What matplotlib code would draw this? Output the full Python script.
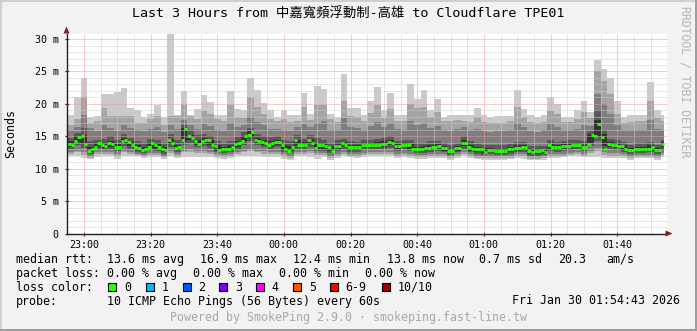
import numpy as np
import matplotlib
matplotlib.use("Agg")
import matplotlib.pyplot as plt
from matplotlib.patches import Rectangle, Polygon

W, H, DPI = 697, 331, 100

# ---------------- data ----------------
start_min = -5          # minutes relative to 23:00
data_end_min = 174

# median rtt (ms), one value per minute
median_rtt = [
    13.8, 13.7, 14.3, 14.9, 15.0, 13.8, 12.8, 13.0, 13.4, 13.9,
    13.7, 13.5, 13.9, 13.8, 13.4, 13.3, 14.2, 14.5, 14.1, 13.7,
    13.3, 13.2, 12.9, 13.1, 13.3, 14.0, 13.6, 13.4, 13.1, 12.9,
    14.5, 13.9, 13.2, 13.4, 14.5, 16.2, 15.1, 14.7, 14.3, 13.8,
    14.3, 14.4, 14.4, 13.7, 13.5, 12.9, 13.0, 13.0, 13.1, 13.3,
    13.8, 13.9, 14.2, 15.1, 15.2, 15.7, 14.5, 14.3, 14.1, 14.0,
    13.7, 13.9, 14.1, 14.1, 13.6, 13.0, 12.8, 13.4, 14.4, 13.6,
    13.7, 13.7, 14.5, 14.0, 13.2, 13.7, 13.6, 13.5, 13.3, 12.8,
    13.5, 13.5, 13.9, 13.6, 13.3, 13.3, 13.3, 13.3, 13.6, 13.6,
    13.6, 13.7, 13.7, 13.7, 13.8, 13.8, 14.1, 13.9, 13.5, 13.5,
    13.7, 13.7, 13.7, 13.1, 13.1, 13.0, 13.0, 13.2, 13.2, 13.4,
    13.4, 13.5, 13.2, 13.2, 12.7, 12.7, 13.2, 13.2, 14.0, 14.0,
    13.4, 13.0, 13.0, 13.0, 13.0, 12.6, 12.9, 12.9, 12.7, 12.8,
    12.8, 12.8, 13.0, 13.0, 13.2, 13.2, 13.3, 13.3, 12.8, 12.5,
    12.7, 12.7, 12.9, 12.6, 13.6, 13.3, 13.3, 13.3, 13.5, 13.5,
    13.5, 13.7, 13.7, 13.6, 13.4, 13.4, 13.8, 15.2, 15.1, 16.9,
    14.9, 13.0, 13.8, 13.7, 13.7, 13.5, 13.5, 13.1, 12.9, 12.9,
    13.1, 13.1, 13.1, 13.1, 13.1, 13.4, 12.9, 12.9, 13.8,
]

# smoke: sorted pings (ms), one value per 2 minutes
ping_1 = [
    11.9, 11.9, 11.7, 11.5, 11.8, 12.0, 12.0, 11.5, 11.9, 11.9,
    11.9, 11.7, 11.8, 11.8, 11.5, 11.9, 11.7, 11.8, 11.8, 11.8,
    11.8, 11.8, 11.6, 11.5, 11.6, 12.0, 12.0, 12.0, 12.0, 11.8,
    11.8, 11.8, 11.5, 11.4, 11.9, 11.9, 11.8, 11.5, 11.8, 11.4,
    11.7, 11.9, 11.8, 11.7, 11.8, 11.9, 11.9, 11.9, 11.9, 11.7,
    11.8, 11.7, 11.5, 11.5, 11.6, 11.7, 11.6, 11.4, 11.6, 11.9,
    11.6, 11.5, 11.4, 11.4, 11.4, 11.4, 11.5, 11.6, 11.5, 11.3,
    11.3, 11.4, 11.6, 11.7, 11.8, 11.9, 11.9, 11.8, 11.8, 11.8,
    11.6, 11.6, 11.6, 11.6, 11.4, 11.6, 11.6, 11.6, 11.4, 11.8,
]
ping_2 = [
    12.3, 12.5, 12.1, 11.7, 12.2, 12.3, 12.3, 11.9, 12.5, 12.3,
    12.1, 11.9, 12.1, 12.1, 11.8, 12.4, 12.0, 12.5, 12.6, 12.4,
    12.4, 12.3, 11.9, 11.8, 11.9, 12.3, 12.5, 12.7, 12.5, 12.3,
    12.2, 12.3, 11.9, 11.7, 12.2, 12.2, 12.4, 12.1, 12.1, 11.7,
    12.0, 12.2, 12.0, 12.0, 12.1, 12.2, 12.2, 12.2, 12.3, 12.0,
    12.1, 12.0, 11.8, 11.8, 11.9, 12.0, 11.9, 11.6, 11.9, 12.2,
    11.9, 11.7, 11.6, 11.6, 11.6, 11.6, 11.7, 11.9, 12.0, 11.5,
    11.5, 11.6, 12.0, 11.9, 12.0, 12.1, 12.2, 12.0, 12.4, 12.7,
    12.1, 12.0, 12.0, 11.9, 11.6, 11.8, 11.8, 11.8, 11.6, 12.1,
]
ping_3 = [
    12.6, 12.8, 12.5, 12.0, 12.5, 12.5, 12.6, 12.2, 12.8, 12.6,
    12.3, 12.1, 12.4, 12.4, 12.0, 12.7, 12.3, 12.8, 13.0, 12.7,
    12.8, 12.6, 12.2, 12.1, 12.2, 12.5, 12.8, 13.0, 12.8, 12.7,
    12.5, 12.6, 12.2, 12.0, 12.5, 12.5, 12.7, 12.4, 12.4, 12.0,
    12.3, 12.5, 12.3, 12.3, 12.4, 12.5, 12.5, 12.5, 12.6, 12.3,
    12.4, 12.3, 12.1, 12.1, 12.2, 12.3, 12.2, 11.9, 12.2, 12.5,
    12.2, 12.0, 11.9, 11.9, 11.9, 11.9, 12.0, 12.2, 12.3, 11.8,
    11.8, 11.9, 12.3, 12.2, 12.3, 12.4, 12.5, 12.3, 12.8, 13.2,
    12.5, 12.4, 12.4, 12.2, 11.9, 12.1, 12.1, 12.1, 11.9, 12.4,
]
ping_4 = [
    13.1, 13.6, 13.2, 12.3, 13.0, 12.9, 13.1, 12.7, 13.5, 13.1,
    12.6, 12.4, 12.9, 12.8, 12.3, 13.3, 12.6, 13.6, 13.9, 13.3,
    13.5, 13.2, 12.5, 12.4, 12.5, 13.0, 13.6, 14.2, 13.6, 13.3,
    13.1, 13.3, 12.6, 12.4, 13.1, 13.0, 13.4, 12.8, 12.8, 12.4,
    12.8, 13.0, 12.6, 12.6, 12.9, 13.0, 13.0, 13.1, 13.2, 12.8,
    13.0, 12.7, 12.4, 12.4, 12.6, 12.7, 12.5, 12.1, 12.5, 13.1,
    12.5, 12.3, 12.1, 12.2, 12.1, 12.1, 12.3, 12.5, 12.6, 12.0,
    12.0, 12.1, 12.8, 12.6, 12.8, 12.9, 13.0, 12.7, 13.5, 14.2,
    13.0, 13.0, 12.9, 12.6, 12.2, 12.4, 12.4, 12.5, 12.2, 12.9,
]
ping_5 = [
    13.4, 14.1, 13.8, 12.6, 13.3, 13.2, 13.4, 13.0, 13.9, 13.5,
    12.9, 12.7, 13.2, 13.1, 12.6, 13.8, 12.9, 14.2, 14.4, 13.7,
    13.9, 13.6, 12.8, 12.7, 12.8, 13.4, 14.2, 14.9, 14.0, 13.7,
    13.4, 13.7, 12.9, 12.7, 13.5, 13.3, 13.8, 13.1, 13.1, 12.7,
    13.1, 13.3, 12.9, 12.9, 13.2, 13.3, 13.3, 13.4, 13.6, 13.1,
    13.3, 13.0, 12.7, 12.7, 12.9, 13.0, 12.8, 12.4, 12.8, 13.5,
    12.8, 12.6, 12.4, 12.5, 12.4, 12.4, 12.6, 12.8, 12.9, 12.3,
    12.3, 12.4, 13.1, 12.9, 13.1, 13.2, 13.3, 13.0, 14.0, 15.0,
    13.5, 13.3, 13.2, 12.9, 12.5, 12.7, 12.7, 12.8, 12.5, 13.3,
]
ping_6 = [
    14.2, 15.0, 15.2, 13.3, 14.0, 14.0, 14.3, 13.8, 14.7, 14.3,
    13.6, 13.4, 14.0, 13.9, 13.3, 14.6, 13.7, 16.3, 15.2, 14.5,
    14.7, 14.4, 13.6, 13.4, 13.6, 14.2, 15.1, 15.8, 14.8, 14.4,
    14.2, 14.5, 13.7, 13.5, 14.4, 14.1, 14.6, 13.9, 13.9, 13.5,
    13.9, 14.1, 13.7, 13.6, 13.9, 14.0, 14.1, 14.2, 14.4, 13.8,
    14.0, 13.8, 13.4, 13.5, 13.6, 13.8, 13.5, 13.1, 13.5, 14.4,
    13.6, 13.3, 13.2, 13.2, 13.1, 13.1, 13.3, 13.6, 13.6, 13.0,
    13.0, 13.1, 13.8, 13.6, 13.8, 13.9, 14.0, 13.7, 15.3, 17.5,
    15.3, 14.1, 13.9, 13.6, 13.2, 13.4, 13.4, 13.6, 13.2, 14.1,
]
ping_7 = [
    14.8, 15.5, 16.3, 14.2, 14.5, 14.6, 15.0, 14.4, 15.3, 14.8,
    14.2, 13.9, 14.6, 14.5, 13.9, 15.3, 14.4, 16.8, 16.0, 15.2,
    15.3, 15.0, 14.3, 13.9, 14.2, 14.9, 15.6, 16.3, 15.4, 15.0,
    14.9, 15.0, 14.4, 14.2, 15.2, 14.6, 15.2, 14.7, 14.5, 14.0,
    14.4, 14.6, 14.2, 14.1, 14.4, 14.5, 14.6, 14.7, 15.0, 14.3,
    14.5, 14.5, 13.9, 14.0, 14.2, 14.3, 14.0, 13.6, 14.0, 15.0,
    14.2, 13.8, 13.7, 13.7, 13.6, 13.6, 13.8, 14.1, 14.1, 13.5,
    13.5, 13.5, 14.4, 14.1, 14.3, 14.4, 14.5, 14.2, 15.8, 19.0,
    16.0, 14.6, 14.4, 14.1, 13.7, 13.9, 13.9, 14.1, 13.7, 14.5,
]
ping_8 = [
    16.0, 16.5, 18.3, 16.3, 15.8, 16.8, 16.3, 15.8, 16.8, 16.3,
    15.9, 15.8, 16.1, 16.5, 15.6, 16.8, 16.2, 17.5, 16.8, 16.2,
    16.9, 16.6, 16.0, 15.8, 17.0, 16.5, 16.8, 18.0, 17.2, 16.7,
    16.2, 16.2, 16.0, 15.8, 16.5, 16.9, 16.4, 17.0, 17.3, 16.0,
    15.9, 17.8, 16.4, 16.3, 16.0, 16.6, 17.2, 16.4, 17.0, 16.1,
    16.0, 17.3, 16.8, 17.0, 16.3, 16.6, 16.0, 15.8, 16.2, 16.4,
    16.0, 16.2, 15.8, 15.7, 15.8, 15.8, 15.9, 17.0, 16.4, 15.8,
    15.7, 15.9, 16.9, 16.5, 16.0, 16.0, 16.2, 16.8, 16.6, 21.5,
    20.0, 18.5, 16.8, 16.0, 15.9, 16.0, 16.0, 17.5, 16.2, 16.0,
]
ping_9 = [
    16.8, 17.6, 21.0, 17.1, 17.3, 19.4, 18.2, 18.1, 18.2, 18.1,
    17.1, 17.1, 17.6, 18.1, 16.8, 18.1, 18.1, 19.9, 18.1, 17.6,
    18.9, 18.4, 17.6, 17.4, 19.9, 18.0, 17.8, 21.0, 19.5, 18.4,
    17.6, 17.3, 17.6, 17.2, 17.4, 19.5, 17.5, 19.9, 19.8, 17.6,
    17.2, 20.5, 18.2, 18.0, 17.3, 18.6, 19.8, 17.8, 19.2, 17.4,
    17.3, 20.0, 19.3, 19.5, 17.9, 18.7, 17.3, 17.3, 17.5, 17.4,
    17.2, 18.0, 17.2, 17.0, 17.1, 17.0, 17.3, 19.5, 18.0, 17.2,
    17.0, 17.2, 18.9, 18.5, 17.2, 17.2, 17.6, 18.8, 17.8, 25.0,
    23.5, 21.5, 18.5, 17.1, 17.2, 17.4, 17.3, 20.5, 17.8, 17.3,
]
ping_10 = [
    18.3, 21.0, 24.0, 18.0, 18.1, 21.5, 21.5, 21.8, 22.5, 19.4,
    19.1, 18.0, 18.5, 19.8, 18.0, 31.5, 18.3, 22.0, 18.3, 19.2,
    21.3, 20.3, 18.3, 18.3, 22.0, 19.2, 19.0, 24.0, 22.2, 20.2,
    19.0, 18.0, 19.0, 18.3, 18.3, 21.7, 18.5, 22.7, 22.3, 18.5,
    18.0, 24.6, 19.3, 19.3, 18.3, 20.5, 22.6, 19.0, 21.7, 18.3,
    18.3, 23.1, 20.8, 22.2, 19.0, 20.8, 18.0, 18.3, 18.3, 18.3,
    18.3, 19.4, 18.3, 18.0, 18.2, 18.2, 18.2, 22.1, 19.2, 18.3,
    18.0, 18.3, 21.0, 20.0, 18.0, 18.0, 19.0, 20.5, 18.8, 26.7,
    25.4, 24.0, 20.5, 18.0, 18.3, 18.3, 18.3, 23.4, 19.0, 18.3,
]

x_tick_minutes = [0, 20, 40, 60, 80, 100, 120, 140, 160]
x_tick_labels = ["23:00", "23:20", "23:40", "00:00", "00:20", "00:40",
                 "01:00", "01:20", "01:40"]
y_tick_values = [0, 5, 10, 15, 20, 25, 30]
y_tick_labels = ["0", "5 m", "10 m", "15 m", "20 m", "25 m", "30 m"]

loss_labels = ["0", "1", "2", "3", "4", "5", "6-9", "10/10"]
loss_colors = ["#26ff00", "#00b8ff", "#0059ff", "#7e00ff", "#ff00ff",
               "#ff5500", "#ff0000", "#a10000"]

title = "Last 3 Hours from 中嘉寬頻浮動制-高雄 to Cloudflare TPE01"
stats_rtt = ["median rtt:", "13.6 ms avg", "16.9 ms max", "12.4 ms min",
             "13.8 ms now", "0.7 ms sd", "20.3", "am/s"]
stats_loss = ["packet loss:", "0.00 % avg", "0.00 % max", "0.00 % min",
              "0.00 % now"]
probe_text = "10 ICMP Echo Pings (56 Bytes) every 60s"
date_text = "Fri Jan 30 01:54:43 2026"
footer = "Powered by SmokePing 2.9.0 · smokeping.fast-line.tw"

# ---------------- figure ----------------
MONO = "DejaVu Sans Mono"
plt.rcParams["font.family"] = [MONO, "Noto Sans CJK TC"]

BG = "#f2f2f2"
fig = plt.figure(figsize=(W / DPI, H / DPI), dpi=DPI, facecolor=BG)

def fx(px):
    return px / W

def fy(py):
    return 1 - py / H

# frame shading
fig.add_artist(Rectangle((0, 0), fx(2), 1, transform=fig.transFigure, color="#cfcfcf", lw=0))
fig.add_artist(Rectangle((0, fy(2)), 1, 2 / H, transform=fig.transFigure, color="#cfcfcf", lw=0))
fig.add_artist(Rectangle((fx(W - 2), 0), fx(2), 1, transform=fig.transFigure, color="#9e9e9e", lw=0))
fig.add_artist(Rectangle((0, 0), 1, 2 / H, transform=fig.transFigure, color="#9e9e9e", lw=0))

PL, PT, PW, PH = 66.5, 33.5, 600, 200
ax = fig.add_axes([fx(PL), 1 - (PT + PH) / H, PW / W, PH / H])
ax.set_facecolor("white")
ax.set_xlim(-5.2, 174.8)
ax.set_ylim(0, 30.86)

# smoke bands
n_bins = len(ping_1)
edges = start_min + 2 * np.arange(n_bins + 1, dtype=float)
edges[-1] = data_end_min
pairs = [(ping_1, ping_10, "#cacaca"), (ping_2, ping_9, "#a4a4a4"),
         (ping_3, ping_8, "#7e7e7e"), (ping_4, ping_7, "#585858"),
         (ping_5, ping_6, "#323232")]
for z, (lo, hi, col) in enumerate(pairs):
    lo_e = np.append(lo, lo[-1])
    hi_e = np.append(hi, hi[-1])
    ax.fill_between(edges, lo_e, hi_e, step="post", color=col, lw=0,
                    antialiased=False, zorder=2 + z * 0.1)

# median: one short segment per minute (no vertical connectors)
m0 = start_min + np.arange(len(median_rtt), dtype=float)
ax.hlines(median_rtt, m0, m0 + 1, colors=loss_colors[0], lw=2.1,
          capstyle="butt", zorder=4)

# grid
for m in np.arange(-5, 175, 5):
    if m % 20 == 0:
        continue
    ax.axvline(m, color="#cccccc", lw=0.72, ls=(0, (1, 1)), zorder=3)
for v in range(1, 31):
    if v % 5 == 0:
        continue
    ax.axhline(v, color="#cccccc", lw=0.72, ls=(0, (1, 1)), zorder=3)
for m in x_tick_minutes:
    ax.axvline(m, color="#ec9a9a", lw=0.72, ls=(0, (1, 1)), zorder=3.1)
for v in y_tick_values[1:]:
    ax.axhline(v, color="#ec9a9a", lw=0.72, ls=(0, (1, 1)), zorder=3.1)

for s in ["top", "right"]:
    ax.spines[s].set_visible(False)
for s in ["left", "bottom"]:
    ax.spines[s].set_color("#1f1f1f")
    ax.spines[s].set_linewidth(1.0)
    ax.spines[s].set_zorder(5)

ax.set_xticks(x_tick_minutes)
ax.set_xticklabels(x_tick_labels)
ax.set_yticks(y_tick_values)
ax.set_yticklabels(y_tick_labels)
ax.tick_params(axis="both", which="major", direction="inout", length=3,
               width=0.8, color="#1f1f1f", labelsize=7.2, labelcolor="black")
ax.tick_params(axis="x", pad=3.0)
ax.tick_params(axis="y", pad=4.0)
for lab in ax.get_xticklabels() + ax.get_yticklabels():
    lab.set_family(MONO)

# arrows
arrow_col = "#801f1f"
fig.add_artist(Polygon([[fx(PL - 3), fy(PT)], [fx(PL + 3), fy(PT)], [fx(PL), fy(PT - 7)]],
                       closed=True, transform=fig.transFigure, color=arrow_col, lw=0))
fig.add_artist(Polygon([[fx(PL + PW - 1), fy(PT + PH - 3)], [fx(PL + PW - 1), fy(PT + PH + 3)],
                        [fx(PL + PW + 6), fy(PT + PH)]],
                       closed=True, transform=fig.transFigure, color=arrow_col, lw=0))

# texts
fig.text(fx(348.5), fy(14.3), title, ha="center", va="center", fontsize=9.6,
         family=[MONO, "Noto Sans CJK TC"])
fig.text(fx(11), fy(133.5), "Seconds", rotation=90, ha="center", va="center",
         fontsize=8.4, family=MONO)
fig.text(fx(685.5), fy(81.5), "RRDTOOL / TOBI OETIKER", rotation=-90, ha="center",
         va="center", fontsize=8.3, family=MONO, color="#b4b4b4")

LFS = 8.4
row_y = [259.3, 273.3, 287.3, 301.0]
rtt_x = [16, 107.3, 200, 293.3, 386.7, 479.3, 558.3, 606.7]
for t, x in zip(stats_rtt, rtt_x):
    fig.text(fx(x), fy(row_y[0]), t, ha="left", va="center", fontsize=LFS, family=MONO)
loss_x = [16, 107.3, 193.3, 279.3, 365.3]
for t, x in zip(stats_loss, loss_x):
    fig.text(fx(x), fy(row_y[1]), t, ha="left", va="center", fontsize=LFS, family=MONO)
fig.text(fx(16), fy(row_y[2]), "loss color:", ha="left", va="center", fontsize=LFS, family=MONO)
box_x = [108.3, 145.7, 182.7, 219.3, 256.0, 293.3, 330.0, 381.7]
for bx, lab, col in zip(box_x, loss_labels, loss_colors):
    fig.add_artist(Rectangle((fx(bx), fy(row_y[2] + 4)), 8 / W, 8 / H,
                             transform=fig.transFigure, facecolor=col,
                             edgecolor="black", lw=0.8))
    fig.text(fx(bx + 15.5), fy(row_y[2]), lab, ha="left", va="center", fontsize=LFS, family=MONO)
fig.text(fx(16), fy(row_y[3]), "probe:", ha="left", va="center", fontsize=LFS, family=MONO)
fig.text(fx(107.3), fy(row_y[3]), probe_text, ha="left", va="center", fontsize=LFS, family=MONO)
fig.text(fx(680), fy(row_y[3]), date_text, ha="right", va="center", fontsize=LFS, family=MONO)
fig.text(fx(348.7), fy(317.7), footer, ha="center", va="center", fontsize=LFS,
         family=MONO, color="#a8a8a8")

fig.savefig("out.png", dpi=DPI, facecolor=BG)
